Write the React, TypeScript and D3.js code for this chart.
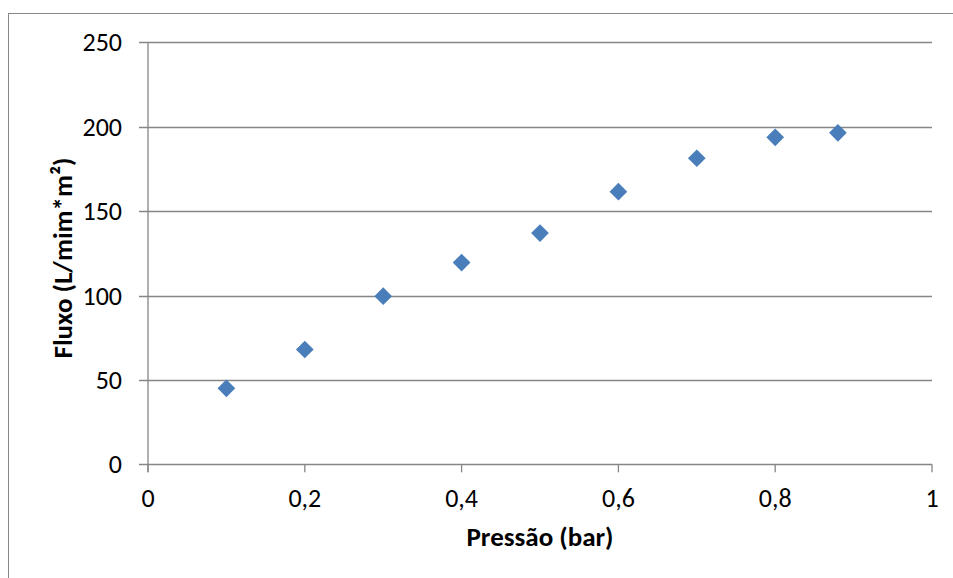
import React from "react";
import * as d3 from "d3";

const pressao = [0.1, 0.2, 0.3, 0.4, 0.5, 0.6, 0.7, 0.8, 0.88];
const fluxo = [45, 68, 99.6, 119.5, 137, 161.5, 181.3, 193.7, 196.4];
const xTicks = [0, 0.2, 0.4, 0.6, 0.8, 1];
const yTicks = [0, 50, 100, 150, 200, 250];
const xTitle = "Pressão (bar)";
const yTitle = "Fluxo (L/mim*m²)";

const W = 953, H = 578;
const left = 148, right = 932, top = 42.3, bottom = 464.3;

export default function App() {
  const x = d3.scaleLinear().domain([0, 1]).range([left, right]);
  const y = d3.scaleLinear().domain([0, 250]).range([bottom, top]);
  const grid = "#868686";
  const font = "Carlito, Calibri, 'Open Sans', 'Liberation Sans', sans-serif";
  const fmt = (v: number) => String(v).replace(".", ",");
  const diamond = d3.symbol().type(d3.symbolDiamond2).size(200)();
  return (
    <svg width={W} height={H} style={{ position: "absolute", left: 0, top: 0 }}>
      <rect x={0} y={0} width={W} height={H} fill="#fff" />
      <rect x={8.5} y={13.5} width={W + 10} height={H + 10} fill="none" stroke="#888" strokeWidth={1} />
      {yTicks.map((t) => (
        <g key={"y" + t}>
          <line x1={left - 9} x2={right} y1={Math.round(y(t)) + 0.5} y2={Math.round(y(t)) + 0.5} stroke={grid} strokeWidth={1.3} />
          <text x={122} y={y(t)} dy="0.35em" textAnchor="end" fontFamily={font} fontSize={26} fill="#000">{t}</text>
        </g>
      ))}
      <line x1={left} x2={left} y1={top} y2={bottom + 8} stroke={grid} strokeWidth={1.3} />
      {xTicks.map((t) => (
        <g key={"x" + t}>
          <line x1={x(t)} x2={x(t)} y1={bottom} y2={bottom + 8} stroke={grid} strokeWidth={1.3} />
          <text x={x(t)} y={507} textAnchor="middle" fontFamily={font} fontSize={26} fill="#000">{fmt(t)}</text>
        </g>
      ))}
      {pressao.map((p, i) => (
        <path key={"p" + i} d={diamond as string} transform={`translate(${x(p)},${y(fluxo[i])})`} fill="#4A7EBB" />
      ))}
      <text x={540} y={546} textAnchor="middle" fontFamily={font} fontSize={27} fontWeight="bold" fill="#000">{xTitle}</text>
      <text transform={`translate(72,258) rotate(-90)`} textAnchor="middle" fontFamily={font} fontSize={27} fontWeight="bold" fill="#000">{yTitle}</text>
    </svg>
  );
}
